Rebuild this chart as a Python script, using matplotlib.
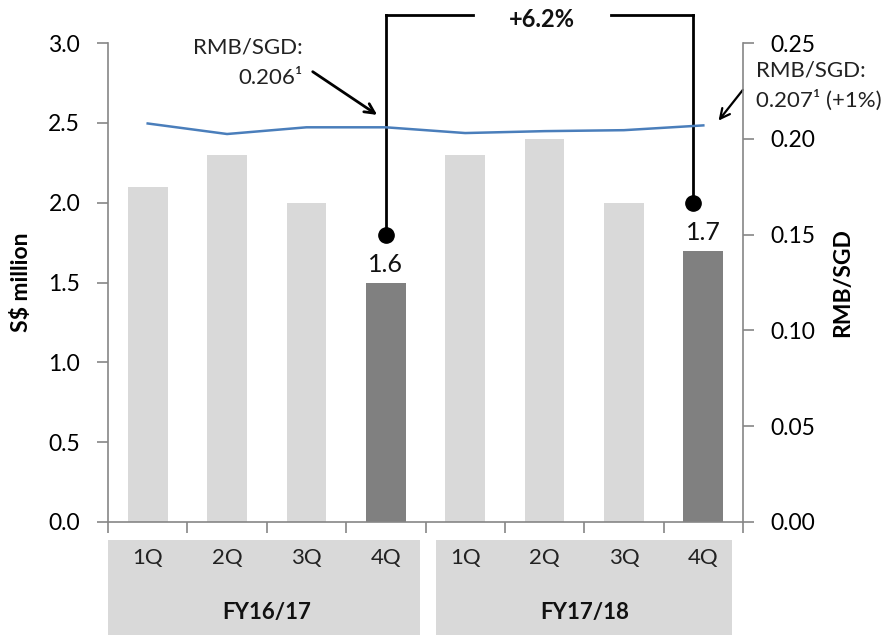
import matplotlib
matplotlib.use("Agg")
import matplotlib.pyplot as plt
import matplotlib.transforms as mtransforms
from matplotlib.patches import Rectangle
import numpy as np

# ---- data ----
quarters = ["1Q", "2Q", "3Q", "4Q", "1Q", "2Q", "3Q", "4Q"]
years = ["FY16/17", "FY17/18"]
revenue = [2.1, 2.3, 2.0, 1.5, 2.3, 2.4, 2.0, 1.7]
highlight = [False, False, False, True, False, False, False, True]
rmb_sgd = [0.208, 0.2025, 0.206, 0.206, 0.203, 0.204, 0.2045, 0.207]
bar_labels = {3: "1.6", 7: "1.7"}
growth_text = "+6.2%"
left_note = ("RMB/SGD:", "0.206¹")
right_note = ("RMB/SGD:", "0.207¹ (+1%)")
left_ticks = [0.0, 0.5, 1.0, 1.5, 2.0, 2.5, 3.0]
right_ticks = [0.00, 0.05, 0.10, 0.15, 0.20, 0.25]

plt.rcParams['font.family'] = ['Lato', 'DejaVu Sans']

LIGHT = "#d9d9d9"
DARK = "#808080"
SPINE = "#868686"
BLUE = "#4a7ebb"

fig = plt.figure(figsize=(8.93, 6.35), dpi=100)
ax = fig.add_axes([108/893, 1-522/635, 635/893, 479/635])
ax2 = ax.twinx()

x = np.arange(len(revenue))
colors = [DARK if h else LIGHT for h in highlight]
ax.bar(x, revenue, width=0.5, color=colors, zorder=2)
ax.set_xlim(-0.5, len(revenue) - 0.5)
ax.set_ylim(0, 3.0)
ax.set_yticks(left_ticks)
ax.set_yticklabels([f"{v:.1f}" for v in left_ticks], fontsize=16.5)
ax.set_ylabel("S$ million", fontsize=16.5, fontweight="bold", labelpad=12)

ax2.plot(x, rmb_sgd, color=BLUE, lw=1.8, zorder=3)
ax2.set_ylim(0, 0.25)
ax2.set_yticks(right_ticks)
ax2.set_yticklabels([f"{v:.2f}" for v in right_ticks], fontsize=16.5)
ax2.set_ylabel("RMB/SGD", fontsize=16.5, fontweight="bold", labelpad=12)

for a in (ax, ax2):
    a.spines['top'].set_visible(False)
    for s in ('left', 'right', 'bottom'):
        a.spines[s].set_color(SPINE)
        a.spines[s].set_linewidth(1.2)
    a.tick_params(axis='y', color=SPINE, length=8, width=1.2, pad=12)
ax.spines['right'].set_visible(False)
ax2.spines['left'].set_visible(False)
ax2.spines['bottom'].set_visible(False)

# x ticks at category boundaries
ax.set_xticks(np.arange(-0.5, len(revenue), 1.0))
ax.set_xticklabels([])
ax.tick_params(axis='x', color=SPINE, length=8, width=1.2)

# category boxes below axis
trans = mtransforms.blended_transform_factory(ax.transData, ax.transAxes)
box_top = (522 - 540) / 479
box_bot = (522 - 640) / 479
ax.add_patch(Rectangle((-0.5, box_bot), 3.93, box_top - box_bot, transform=trans,
                       facecolor=LIGHT, edgecolor='none', clip_on=False))
ax.add_patch(Rectangle((3.63, box_bot), 3.73, box_top - box_bot, transform=trans,
                       facecolor=LIGHT, edgecolor='none', clip_on=False))
for i, q in enumerate(quarters):
    ax.text(i, (522 - 558) / 479, q, transform=trans, ha='center', va='center',
            fontsize=16, color='#222222')
for j, y in enumerate(years):
    ax.text(1.5 + 4 * j, (522 - 613) / 479, y, transform=trans, ha='center', va='center',
            fontsize=16, fontweight='bold', color='#111111')

# bar value labels
for i, lab in bar_labels.items():
    ax.text(i, revenue[i] + 0.04, lab, ha='center', va='bottom', fontsize=18, color='#111111')

# growth bracket
y_top = (522 - 15) / 159.67
xl, xr = 3.0, 6.87
ax.plot([xl, xl], [1.80, y_top], color='black', lw=2, clip_on=False, zorder=5)
ax.plot([xr, xr], [2.0, y_top], color='black', lw=2, clip_on=False, zorder=5)
ax.plot([xl, 4.1], [y_top, y_top], color='black', lw=2, clip_on=False, zorder=5)
ax.plot([5.84, xr], [y_top, y_top], color='black', lw=2, clip_on=False, zorder=5)
ax.plot([xl, xr], [1.80, 2.0], 'o', color='black', ms=11, clip_on=False, zorder=6)
ax.text((4.1 + 5.84) / 2, y_top - 0.03, growth_text, ha='center', va='center', fontsize=17,
        fontweight='bold', color='#111111')

# RMB/SGD notes
ax.text(1.95, 2.97, left_note[0], ha='right', va='center', fontsize=16, color='#222222')
ax.text(1.95, 2.78, left_note[1], ha='right', va='center', fontsize=16, color='#222222')
ax.annotate("", xy=(2.92, 2.54), xytext=(2.05, 2.83),
            arrowprops=dict(arrowstyle='->,head_length=0.7,head_width=0.35', color='black', lw=2))
ax.text(7.66, 2.83, right_note[0], ha='left', va='center', fontsize=16, color='#222222',
        clip_on=False)
ax.text(7.66, 2.64, right_note[1], ha='left', va='center', fontsize=16, color='#222222',
        clip_on=False)
ax.annotate("", xy=(7.17, 2.50), xytext=(7.52, 2.72),
            arrowprops=dict(arrowstyle='->,head_length=0.7,head_width=0.35', color='black', lw=1.6),
            annotation_clip=False)

fig.savefig("out.png", dpi=100)
